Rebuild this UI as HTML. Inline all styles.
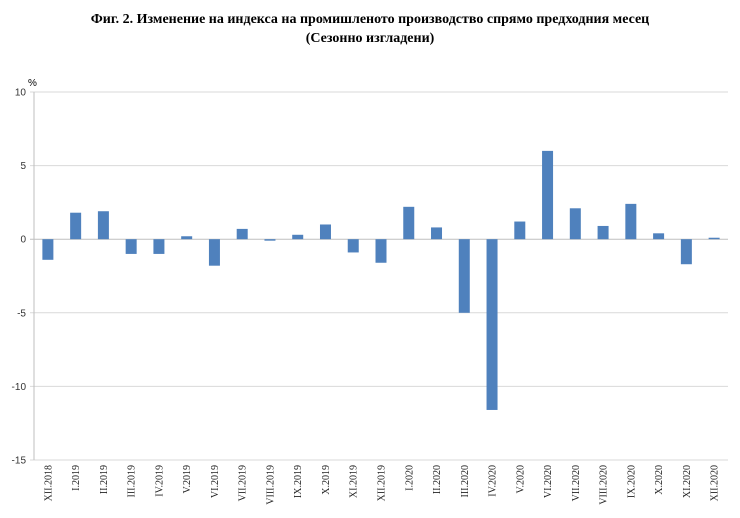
<!DOCTYPE html>
<html><head><meta charset="utf-8"><style>
body{margin:0;background:#fff;width:740px;height:518px;overflow:hidden}
svg{display:block}
</style></head><body>
<svg width="740" height="518">
<text x="370" y="23" text-anchor="middle" font-family="Liberation Serif, serif" font-weight="bold" font-size="14">Фиг. 2. Изменение на индекса на промишленото производство спрямо предходния месец</text>
<text x="370" y="42" text-anchor="middle" font-family="Liberation Serif, serif" font-weight="bold" font-size="14">(Сезонно изгладени)</text>
<text x="28" y="86" font-family="Liberation Sans, sans-serif" font-size="10">%</text>
<g id="grid"></g><g id="bars"></g><g id="xl"></g>
</svg>
<script>
const categories=["XII.2018","I.2019","II.2019","III.2019","IV.2019","V.2019","VI.2019","VII.2019","VIII.2019","IX.2019","X.2019","XI.2019","XII.2019","I.2020","II.2020","III.2020","IV.2020","V.2020","VI.2020","VII.2020","VIII.2020","IX.2020","X.2020","XI.2020","XII.2020"];
const values=[-1.4,1.8,1.9,-1.0,-1.0,0.2,-1.8,0.7,-0.1,0.3,1.0,-0.9,-1.6,2.2,0.8,-5.0,-11.6,1.2,6.0,2.1,0.9,2.4,0.4,-1.7,0.1];
const yTicks=[10,5,0,-5,-10,-15];
const NS="http://www.w3.org/2000/svg";
const L=34,R=728,T=92,B=460,ymax=10,ymin=-15;
const y=v=>T+(ymax-v)/(ymax-ymin)*(B-T);
const step=(R-L)/categories.length;
const x=i=>L+step*(i+0.5);
function mk(t,a,p){const e=document.createElementNS(NS,t);for(const k in a)e.setAttribute(k,a[k]);p.appendChild(e);return e;}
const g=document.getElementById('grid'),b=document.getElementById('bars'),xl=document.getElementById('xl');
yTicks.forEach(v=>{
 const ln=mk('line',{x1:L-4,x2:R,y1:y(v),y2:y(v),stroke:v===0?'#bfbfbf':'#d9d9d9','stroke-width':1},g);
 
 
 const t=mk('text',{x:L-8,y:y(v)+3.5,'text-anchor':'end','font-family':'Liberation Sans, sans-serif','font-size':10,fill:'#333'},g);
 t.textContent=v;
 
 
});
const ax=mk('line',{x1:L,x2:L,y1:T,y2:B,stroke:'#bfbfbf'},g);


const bw=11;
values.forEach((v,i)=>{
 const r=mk('rect',{x:x(i)-bw/2,y:Math.min(y(v),y(0)),width:bw,height:Math.max(Math.abs(y(v)-y(0)),1),fill:'#4f81bd'},b);
 
 
});
categories.forEach((c,i)=>{
 const t=mk('text',{transform:`translate(${x(i)+3.5},465) rotate(-90)`,'text-anchor':'end','font-family':'Liberation Serif, serif','font-size':10,fill:'#222'},xl);
 t.textContent=c;
 
 
});
</script>
</body></html>
